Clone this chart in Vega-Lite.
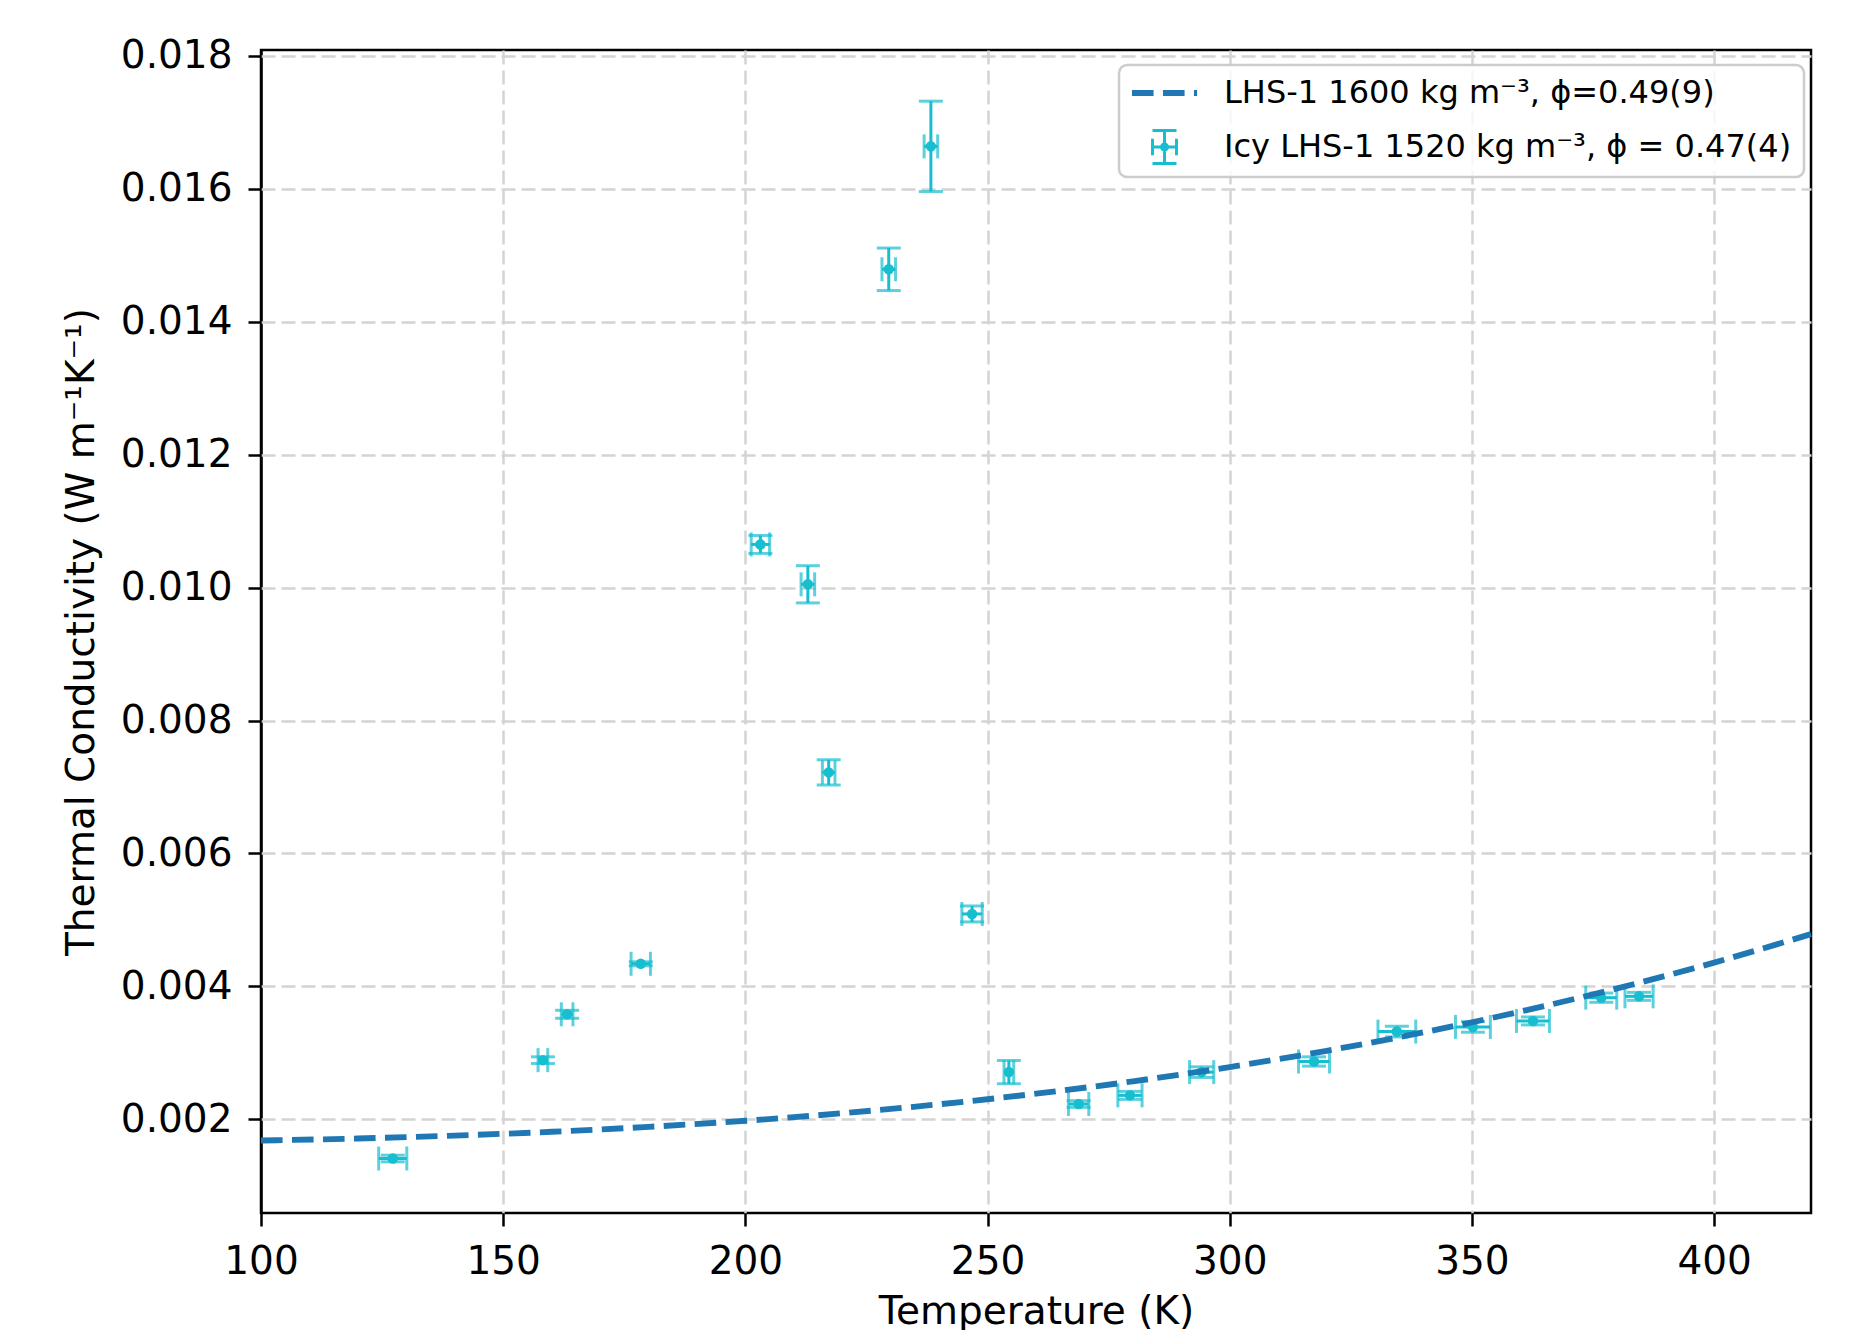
{
  "$schema": "https://vega.github.io/schema/vega-lite/v6.json",
  "width": 1550,
  "height": 1163,
  "autosize": {"type": "none"},
  "padding": {"left": 261, "top": 50, "right": 40, "bottom": 117},
  "background": "white",
  "config": {
    "font": "DejaVu Sans",
    "view": {"stroke": "black", "strokeWidth": 2.5},
    "legend": {"strokeWidth": 2.5},
    "axis": {
      "labelFont": "DejaVu Sans", "labelFontSize": 39, "labelColor": "black",
      "titleFont": "DejaVu Sans", "titleFontSize": 39, "titleFontWeight": "normal", "titleColor": "black",
      "tickColor": "black", "tickWidth": 2.5, "tickSize": 13, "labelPadding": 16, "labelFlush": false,
      "domain": false, "gridColor": "#d4d4d4", "gridDash": [14, 6], "gridWidth": 2.5
    }
  },
  "datasets": {
    "icy": [
      {"T": 127.2, "k": 0.00141, "Tlo": 124.3, "Thi": 130.1, "klo": 0.00136, "khi": 0.00146},
      {"T": 158.2, "k": 0.00289, "Tlo": 157.2, "Thi": 159.2, "klo": 0.00284, "khi": 0.00294},
      {"T": 163.2, "k": 0.00358, "Tlo": 162.0, "Thi": 164.4, "klo": 0.00352, "khi": 0.00364},
      {"T": 178.4, "k": 0.00434, "Tlo": 176.4, "Thi": 180.4, "klo": 0.00431, "khi": 0.00437},
      {"T": 203.1, "k": 0.01065, "Tlo": 201.2, "Thi": 205.0, "klo": 0.010515, "khi": 0.010785},
      {"T": 212.9, "k": 0.01005, "Tlo": 211.5, "Thi": 214.3, "klo": 0.00977, "khi": 0.01033},
      {"T": 217.2, "k": 0.00722, "Tlo": 215.9, "Thi": 218.5, "klo": 0.00703, "khi": 0.00741},
      {"T": 229.6, "k": 0.01479, "Tlo": 228.2, "Thi": 231.0, "klo": 0.01447, "khi": 0.01511},
      {"T": 238.3, "k": 0.01664, "Tlo": 236.9, "Thi": 239.7, "klo": 0.01596, "khi": 0.01732},
      {"T": 246.8, "k": 0.00509, "Tlo": 244.7, "Thi": 248.9, "klo": 0.00497, "khi": 0.00521},
      {"T": 254.4, "k": 0.00271, "Tlo": 253.4, "Thi": 255.4, "klo": 0.002535, "khi": 0.002885},
      {"T": 268.8, "k": 0.00223, "Tlo": 266.7, "Thi": 270.9, "klo": 0.00218, "khi": 0.00228},
      {"T": 279.4, "k": 0.00236, "Tlo": 276.9, "Thi": 281.9, "klo": 0.0023, "khi": 0.00242},
      {"T": 294.2, "k": 0.00271, "Tlo": 291.7, "Thi": 296.7, "klo": 0.00263, "khi": 0.00279},
      {"T": 317.4, "k": 0.00287, "Tlo": 314.2, "Thi": 320.6, "klo": 0.0028, "khi": 0.00294},
      {"T": 334.5, "k": 0.00332, "Tlo": 330.6, "Thi": 338.4, "klo": 0.00324, "khi": 0.0034},
      {"T": 350.2, "k": 0.00339, "Tlo": 346.6, "Thi": 353.8, "klo": 0.00331, "khi": 0.00347},
      {"T": 362.6, "k": 0.00348, "Tlo": 359.2, "Thi": 366.0, "klo": 0.00342, "khi": 0.00354},
      {"T": 376.7, "k": 0.00383, "Tlo": 373.5, "Thi": 379.9, "klo": 0.00376, "khi": 0.0039},
      {"T": 384.5, "k": 0.00385, "Tlo": 381.6, "Thi": 387.4, "klo": 0.00379, "khi": 0.00391}
    ],
    "model": [
      {"T": 100, "k": 0.001681},
      {"T": 120, "k": 0.001711},
      {"T": 140, "k": 0.001755},
      {"T": 160, "k": 0.001812},
      {"T": 180, "k": 0.001886},
      {"T": 200, "k": 0.001978},
      {"T": 220, "k": 0.002091},
      {"T": 240, "k": 0.002226},
      {"T": 260, "k": 0.002385},
      {"T": 280, "k": 0.002571},
      {"T": 300, "k": 0.002786},
      {"T": 320, "k": 0.003031},
      {"T": 340, "k": 0.003308},
      {"T": 360, "k": 0.003621},
      {"T": 380, "k": 0.003970},
      {"T": 400, "k": 0.004358},
      {"T": 420, "k": 0.004787}
    ]
  },
  "layer": [
    {
      "data": {"name": "icy"},
      "mark": {"type": "rule", "strokeWidth": 3},
      "encoding": {
        "x": {"field": "T", "type": "quantitative", "title": "Temperature (K)",
          "scale": {"domain": [100, 420], "nice": false, "zero": false},
          "axis": {"values": [100, 150, 200, 250, 300, 350, 400], "format": "d", "titlePadding": 11,
            "gridColor": {"condition": {"test": "datum.value === 100", "value": "black"}, "value": "#d4d4d4"},
            "gridDash": {"condition": {"test": "datum.value === 100", "value": [1, 0]}, "value": [14, 6]}}},
        "y": {"field": "klo", "type": "quantitative", "title": "Thermal Conductivity (W m⁻¹K⁻¹)",
          "scale": {"domain": [0.00059, 0.01809], "nice": false, "zero": false},
          "axis": {"values": [0.002, 0.004, 0.006, 0.008, 0.01, 0.012, 0.014, 0.016, 0.018], "format": ".3f", "titlePadding": 19}},
        "y2": {"field": "khi"},
        "color": {
          "datum": "Icy LHS-1 1520 kg m⁻³, ϕ = 0.47(4)",
          "scale": {"domain": ["LHS-1 1600 kg m⁻³, ϕ=0.49(9)", "Icy LHS-1 1520 kg m⁻³, ϕ = 0.47(4)"], "range": ["#1f77b4", "#17becf"]},
          "legend": {
            "title": null, "orient": "none", "legendX": 858, "legendY": 15,
            "padding": 12, "fillColor": "rgba(255,255,255,0.8)", "strokeColor": "#cccccc", "cornerRadius": 8,
            "labelFont": "DejaVu Sans", "labelFontSize": 32, "labelColor": "black", "labelLimit": 1000,
            "symbolSize": 900, "symbolStrokeWidth": 0, "labelOffset": 61, "rowPadding": 20,
            "encode": {
              "symbols": {"update": {
                "shape": {"signal": "indexof(datum.value, 'Icy') === 0 ? 'M1.067,-1.1H1.267V1.1H1.067ZM0.367,-1.2H1.967V-1H0.367ZM0.367,1H1.967V1.2H0.367ZM0.367,-0.1H1.967V0.1H0.367ZM0.267,-0.55H0.467V0.55H0.267ZM1.867,-0.55H2.067V0.55H1.867ZM0.867,0A0.3,0.3,0,1,1,1.467,0A0.3,0.3,0,1,1,0.867,0Z' : 'M-1.003,-0.195H0.437V0.195H-1.003ZM1.064,-0.195H2.504V0.195H1.064ZM3.131,-0.195H3.337V0.195H3.131Z'"},
                "fill": {"signal": "indexof(datum.value, 'Icy') === 0 ? '#17becf' : '#1f77b4'"},
                "opacity": {"value": 1}
              }}
            }
          }
        }
      }
    },
    {
      "data": {"name": "icy"},
      "mark": {"type": "rule", "strokeWidth": 3},
      "encoding": {
        "x": {"field": "Tlo", "type": "quantitative", "title": "Temperature (K)", "scale": {"domain": [100, 420], "nice": false, "zero": false}},
        "x2": {"field": "Thi"},
        "y": {"field": "k", "type": "quantitative", "title": "Thermal Conductivity (W m⁻¹K⁻¹)", "scale": {"domain": [0.00059, 0.01809], "nice": false, "zero": false}},
        "color": {"datum": "Icy LHS-1 1520 kg m⁻³, ϕ = 0.47(4)"}
      }
    },
    {
      "data": {"name": "icy"},
      "mark": {"type": "tick", "orient": "horizontal", "size": 24, "thickness": 3},
      "encoding": {
        "x": {"field": "T", "type": "quantitative", "title": "Temperature (K)", "scale": {"domain": [100, 420], "nice": false, "zero": false}},
        "y": {"field": "klo", "type": "quantitative", "title": "Thermal Conductivity (W m⁻¹K⁻¹)", "scale": {"domain": [0.00059, 0.01809], "nice": false, "zero": false}},
        "color": {"datum": "Icy LHS-1 1520 kg m⁻³, ϕ = 0.47(4)"}
      }
    },
    {
      "data": {"name": "icy"},
      "mark": {"type": "tick", "orient": "horizontal", "size": 24, "thickness": 3},
      "encoding": {
        "x": {"field": "T", "type": "quantitative", "title": "Temperature (K)", "scale": {"domain": [100, 420], "nice": false, "zero": false}},
        "y": {"field": "khi", "type": "quantitative", "title": "Thermal Conductivity (W m⁻¹K⁻¹)", "scale": {"domain": [0.00059, 0.01809], "nice": false, "zero": false}},
        "color": {"datum": "Icy LHS-1 1520 kg m⁻³, ϕ = 0.47(4)"}
      }
    },
    {
      "data": {"name": "icy"},
      "mark": {"type": "tick", "orient": "vertical", "size": 24, "thickness": 3},
      "encoding": {
        "x": {"field": "Tlo", "type": "quantitative", "title": "Temperature (K)", "scale": {"domain": [100, 420], "nice": false, "zero": false}},
        "y": {"field": "k", "type": "quantitative", "title": "Thermal Conductivity (W m⁻¹K⁻¹)", "scale": {"domain": [0.00059, 0.01809], "nice": false, "zero": false}},
        "color": {"datum": "Icy LHS-1 1520 kg m⁻³, ϕ = 0.47(4)"}
      }
    },
    {
      "data": {"name": "icy"},
      "mark": {"type": "tick", "orient": "vertical", "size": 24, "thickness": 3},
      "encoding": {
        "x": {"field": "Thi", "type": "quantitative", "title": "Temperature (K)", "scale": {"domain": [100, 420], "nice": false, "zero": false}},
        "y": {"field": "k", "type": "quantitative", "title": "Thermal Conductivity (W m⁻¹K⁻¹)", "scale": {"domain": [0.00059, 0.01809], "nice": false, "zero": false}},
        "color": {"datum": "Icy LHS-1 1520 kg m⁻³, ϕ = 0.47(4)"}
      }
    },
    {
      "data": {"name": "icy"},
      "mark": {"type": "circle", "size": 110, "opacity": 1},
      "encoding": {
        "x": {"field": "T", "type": "quantitative", "title": "Temperature (K)", "scale": {"domain": [100, 420], "nice": false, "zero": false}},
        "y": {"field": "k", "type": "quantitative", "title": "Thermal Conductivity (W m⁻¹K⁻¹)", "scale": {"domain": [0.00059, 0.01809], "nice": false, "zero": false}},
        "color": {"datum": "Icy LHS-1 1520 kg m⁻³, ϕ = 0.47(4)"}
      }
    },
    {
      "data": {"name": "model"},
      "mark": {"type": "line", "strokeWidth": 5.85, "strokeDash": [21.6, 9.4], "interpolate": "monotone"},
      "encoding": {
        "x": {"field": "T", "type": "quantitative", "title": "Temperature (K)", "scale": {"domain": [100, 420], "nice": false, "zero": false}},
        "y": {"field": "k", "type": "quantitative", "title": "Thermal Conductivity (W m⁻¹K⁻¹)", "scale": {"domain": [0.00059, 0.01809], "nice": false, "zero": false}},
        "color": {"datum": "LHS-1 1600 kg m⁻³, ϕ=0.49(9)"}
      }
    }
  ]
}
